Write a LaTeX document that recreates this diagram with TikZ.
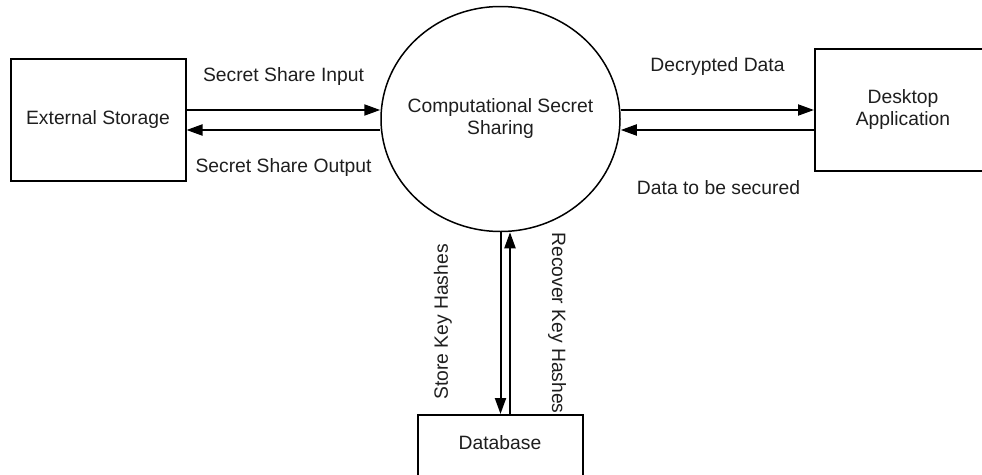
\documentclass[tikz,border=0pt]{standalone}
\usepackage{fontspec}
\setmainfont{Liberation Sans}
\usetikzlibrary{arrows.meta, shapes.geometric}
\definecolor{ink}{HTML}{1E1E1E}
\tikzset{
  every picture/.style={line width=1.8pt},
  every node/.style={font=\fontsize{19.3}{22}\selectfont, text=ink},
  proc/.style={draw, ellipse, line width=1.5pt, minimum width=239pt, minimum height=225pt, align=center, inner xsep=-14pt, inner ysep=0pt},
  ent/.style={draw, rectangle, line width=2pt, align=center, inner sep=0pt},
  flow/.style={-{Triangle[length=16pt, width=11pt]}, line width=2pt},
  lbl/.style={inner sep=1pt},
}

\begin{document}
\begin{tikzpicture}[x=1pt, y=-1pt]
  \useasboundingbox (0,0) rectangle (982,474);
  \clip (0,0) rectangle (982,474);
  % process and the three entities round it
  \node[proc] (css) at (500.5,119) {Computational Secret\\Sharing};
  \node[ent, minimum width=175pt, minimum height=122pt] (ext) at (98,120) {External Storage};
  \node[ent, minimum width=176pt, minimum height=122pt] (desk) at (903,110) {Desktop\\Application};
  \node[ent, minimum width=165pt, minimum height=100pt, anchor=north] (db) at (500,414) {};
  \node (dbname) at (500,443) {Database};
  % data flows
  \draw[flow] ([yshift=10pt]ext.east) -- ([yshift=10pt]ext.east -| css.west);
  \draw[flow] ([yshift=-10pt]ext.east -| css.west) -- ([yshift=-10pt]ext.east);
  \draw[flow] (desk.west -| css.east) -- (desk.west);
  \draw[flow] ([yshift=-20pt]desk.west) -- ([yshift=-20pt]desk.west -| css.east);
  \draw[flow] (css.south) -- (css.south |- db.north);
  \draw[flow] ([xshift=10pt]db.north) -- ([xshift=10pt]db.north |- css.south);
  % flow labels
  \node[lbl] (inlbl) at (283.5,77) {Secret Share Input};
  \node[lbl] (outlbl) at (283.5,168) {Secret Share Output};
  \node[lbl] (declbl) at (717.5,67) {Decrypted Data};
  \node[lbl] (seclbl) at (718.5,188) {Data to be secured};
  \node[lbl, rotate=90] (storelbl) at (443,322) {Store Key Hashes};
  \node[lbl, rotate=-90] (recovlbl) at (557,323) {Recover Key Hashes};
\end{tikzpicture}
\end{document}
